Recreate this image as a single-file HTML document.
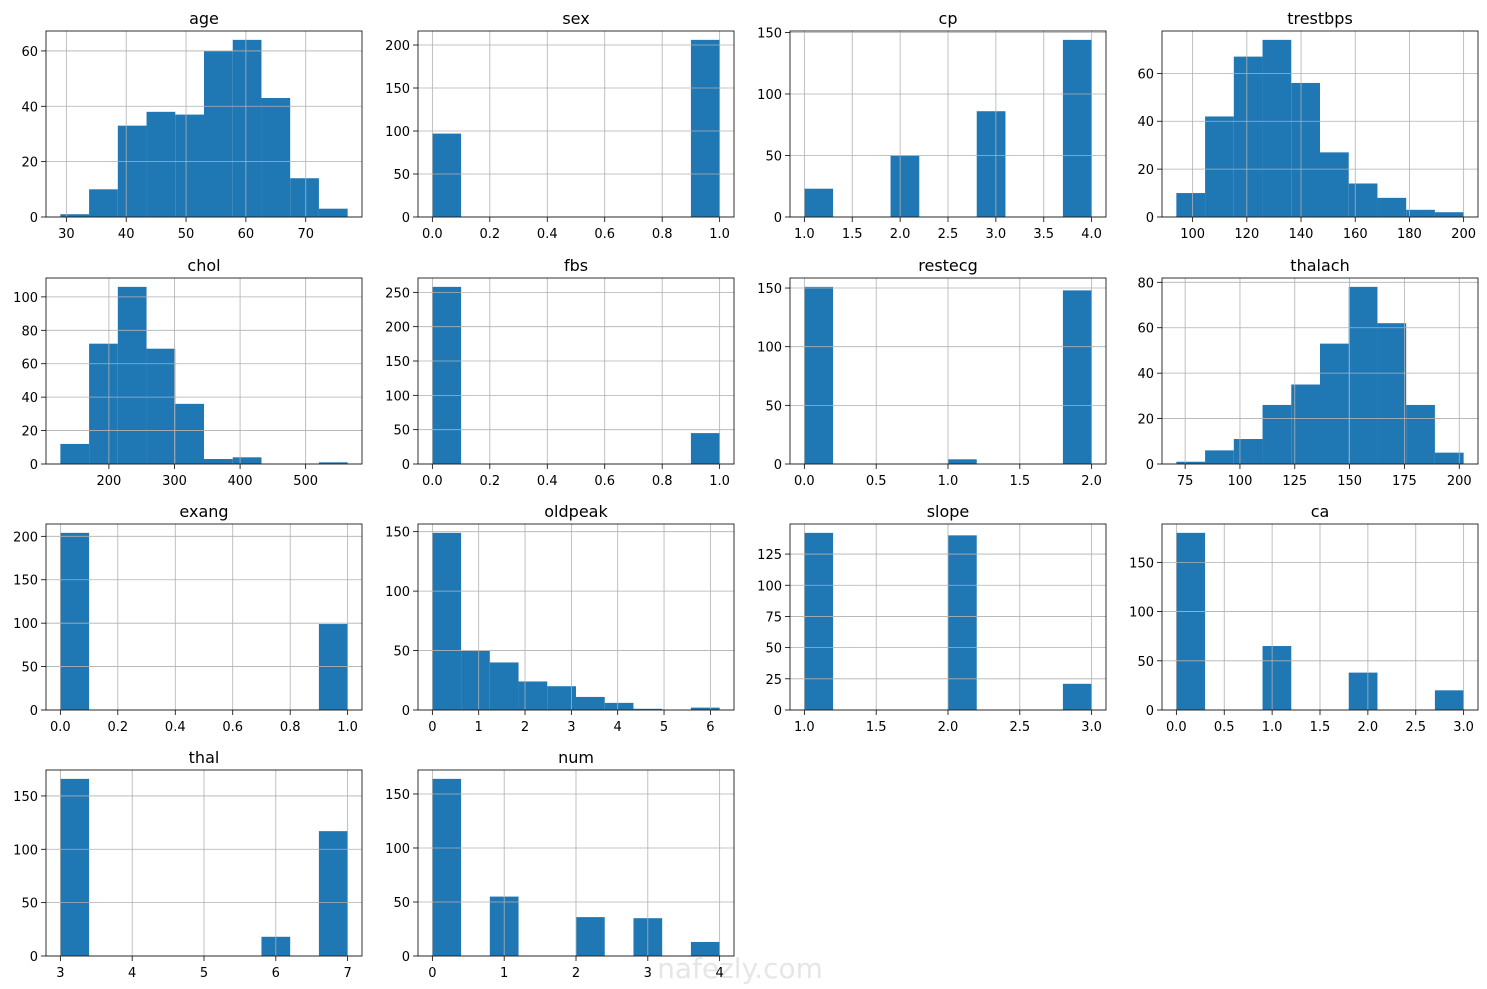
<!DOCTYPE html>
<html><head><meta charset="utf-8"><style>
html,body{margin:0;padding:0;background:#fff;}
svg{display:block;font-family:"DejaVu Sans","Liberation Sans",sans-serif;}
</style></head><body>
<svg id="fig" width="1487" height="989" viewBox="0 0 1487 989" xmlns="http://www.w3.org/2000/svg">
<text x="740" y="978" font-size="28" fill="#e6e6e6" text-anchor="middle">nafezly.com</text>
</svg>
<script>
const titles = ["age","sex","cp","trestbps","chol","fbs","restecg","thalach","exang","oldpeak","slope","ca","thal","num"];
const binMin = [29,0,1,94,126,0,0,71,0,0,1,0,3,0];
const binMax = [77,1,4,200,564,1,2,202,1,6.2,3,3,7,4];
const counts = [
 [1,10,33,38,37,60,64,43,14,3],
 [97,0,0,0,0,0,0,0,0,206],
 [23,0,0,50,0,0,86,0,0,144],
 [10,42,67,74,56,27,14,8,3,2],
 [12,72,106,69,36,3,4,0,0,1],
 [258,0,0,0,0,0,0,0,0,45],
 [151,0,0,0,0,4,0,0,0,148],
 [1,6,11,26,35,53,78,62,26,5],
 [204,0,0,0,0,0,0,0,0,99],
 [149,50,40,24,20,11,6,1,0,2],
 [142,0,0,0,0,140,0,0,0,21],
 [180,0,0,65,0,0,38,0,0,20],
 [166,0,0,0,0,0,0,18,0,117],
 [164,0,55,0,0,36,0,35,0,13]
];
const xTicks = [
 [30,40,50,60,70],
 [0,0.2,0.4,0.6,0.8,1.0],
 [1,1.5,2,2.5,3,3.5,4],
 [100,120,140,160,180,200],
 [200,300,400,500],
 [0,0.2,0.4,0.6,0.8,1.0],
 [0,0.5,1,1.5,2],
 [75,100,125,150,175,200],
 [0,0.2,0.4,0.6,0.8,1.0],
 [0,1,2,3,4,5,6],
 [1,1.5,2,2.5,3],
 [0,0.5,1,1.5,2,2.5,3],
 [3,4,5,6,7],
 [0,1,2,3,4]
];
const xDecimals = [0,1,1,0,0,1,1,0,1,0,1,1,0,0];
const yTicks = [
 [0,20,40,60],
 [0,50,100,150,200],
 [0,50,100,150],
 [0,20,40,60],
 [0,20,40,60,80,100],
 [0,50,100,150,200,250],
 [0,50,100,150],
 [0,20,40,60,80],
 [0,50,100,150,200],
 [0,50,100,150],
 [0,25,50,75,100,125],
 [0,50,100,150],
 [0,50,100,150],
 [0,50,100,150]
];
const colX = [46,418,790,1162];
const rowY = [31,278,524,770];
const W = 316, H = 186;
const NS = "http://www.w3.org/2000/svg";
const svg = document.getElementById('fig');
function mk(tag, attrs, parent){
  const e = document.createElementNS(NS, tag);
  for (const k in attrs) e.setAttribute(k, attrs[k]);
  parent.appendChild(e);
  return e;
}
titles.forEach((t, i) => {
  const x0 = colX[i % 4], y0 = rowY[Math.floor(i / 4)];
  const mn = binMin[i], mx = binMax[i], c = counts[i];
  const rng = mx - mn;
  const lo = mn - 0.05 * rng, hi = mx + 0.05 * rng;
  const ymax = Math.max(...c) * 1.05;
  const sx = v => x0 + (v - lo) / (hi - lo) * W;
  const sy = v => y0 + H - v / ymax * H;
  const g = mk('g', {}, svg);
  
  
  const bw = rng / c.length;
  c.forEach((v, b) => {
    if (v <= 0) return;
    const r = mk('rect', {x: sx(mn + b * bw), y: sy(v), width: sx(mn + (b + 1) * bw) - sx(mn + b * bw), height: sy(0) - sy(v), fill: '#1f77b4'}, g);
    
    
  });
  xTicks[i].forEach(v => {
    const X = sx(v);
    mk('line', {x1: X, x2: X, y1: y0, y2: y0 + H, stroke: '#b0b0b0', 'stroke-width': 0.8}, g);
    mk('line', {x1: X, x2: X, y1: y0 + H, y2: y0 + H + 5, stroke: '#000', 'stroke-width': 0.8}, g);
    const tx = mk('text', {x: X, y: y0 + H + 21, 'font-size': 13, 'text-anchor': 'middle', fill: '#000'}, g);
    tx.textContent = v.toFixed(xDecimals[i]);
    
    
  });
  yTicks[i].forEach(v => {
    const Y = sy(v);
    mk('line', {x1: x0, x2: x0 + W, y1: Y, y2: Y, stroke: '#b0b0b0', 'stroke-width': 0.8}, g);
    mk('line', {x1: x0 - 5, x2: x0, y1: Y, y2: Y, stroke: '#000', 'stroke-width': 0.8}, g);
    const ty = mk('text', {x: x0 - 8, y: Y + 5, 'font-size': 13, 'text-anchor': 'end', fill: '#000'}, g);
    ty.textContent = String(v);
    
    
  });
  mk('rect', {x: x0, y: y0, width: W, height: H, fill: 'none', stroke: '#000', 'stroke-width': 0.8}, g);
  const tt = mk('text', {x: x0 + W / 2, y: y0 - 7, 'font-size': 16, 'text-anchor': 'middle', fill: '#000'}, g);
  tt.textContent = t;
  
  
});
</script>
</body></html>
